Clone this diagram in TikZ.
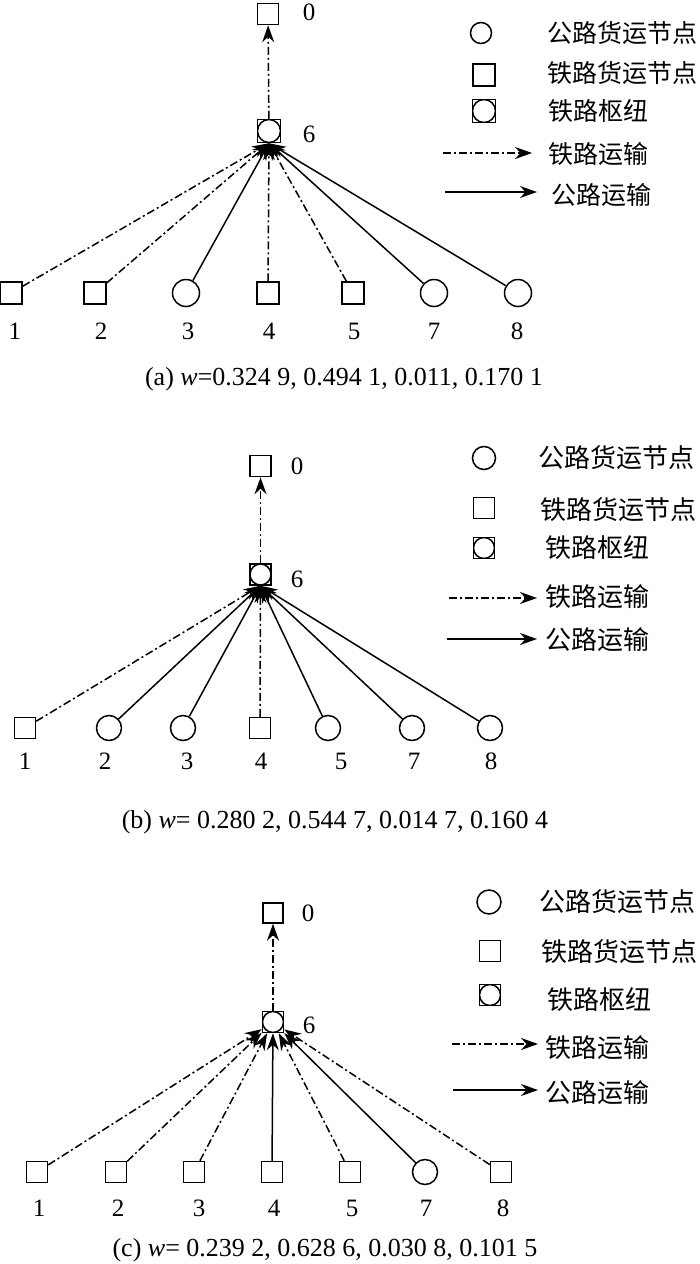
\documentclass[tikz,border=0pt]{standalone}
\usepackage{fontspec}
\setmainfont{Liberation Serif}
\newfontfamily\cjk{Noto Sans CJK SC}
\usetikzlibrary{arrows.meta}
\tikzset{
  sq/.style={draw, rectangle, minimum size=#1, inner sep=0pt},
  sq/.default=21pt,
  rd/.style={draw, circle, minimum size=#1, inner sep=0pt},
  rd/.default=25pt,
  hubbox/.style={draw, rectangle, minimum size=#1, inner sep=0pt,
    path picture={\draw (path picture bounding box.center) circle[radius=#1/2];}},
  hubbox/.default=21pt,
  num/.style={inner sep=0pt, font=\fontsize{25}{30}\selectfont},
  lab/.style={anchor=west, inner sep=0pt, font=\cjk\fontsize{26}{30}\selectfont},
  laba/.style={anchor=west, inner sep=0pt, font=\cjk\fontsize{25}{30}\selectfont},
  captxt/.style={inner sep=0pt, font=\fontsize{26}{30}\selectfont},
  rail/.style={dash pattern=on 8pt off 3pt on 2pt off 3pt},
  arr/.style={-{Stealth[length=17pt,width=12pt]}},
}
\begin{document}
\begin{tikzpicture}[x=1pt,y=-1pt,line width=1.5pt]
\useasboundingbox (0,0) rectangle (700,1264);

% ================= (a) =================
\node[sq=21pt] (a0) at (268,14) {};
\node[num] (a0l) at (309,12) {0};
\node[hubbox=23pt] (a6) at (269,131) {};
\node[num] (a6l) at (309,134) {6};
\node[sq=22pt] (a1) at (11,293) {};
\node[sq=22pt] (a2) at (95,293) {};
\node[rd=27pt] (a3) at (186,293) {};
\node[sq=22pt] (a4) at (268,293) {};
\node[sq=22pt] (a5) at (353,293) {};
\node[rd=27pt] (a7) at (434,293) {};
\node[rd=27pt] (a8) at (518,293) {};
\node[num] (a1l) at (15,331) {1};
\node[num] (a2l) at (101,331) {2};
\node[num] (a3l) at (188,331) {3};
\node[num] (a4l) at (269,331) {4};
\node[num] (a5l) at (354,331) {5};
\node[num] (a7l) at (434,331) {7};
\node[num] (a8l) at (517,331) {8};
\draw[rail,arr] (a6) -- (a0);
\draw[rail,arr] (a1) -- (a6.south);
\draw[rail,arr] (a2) -- (a6.south);
\draw[arr] (a3) -- (a6.south);
\draw[rail,arr] (a4) -- (a6.south);
\draw[rail,arr] (a5) -- (a6.south);
\draw[arr] (a7) -- (a6.south);
\draw[arr] (a8) -- (a6.south);
\node[captxt] (acap) at (344,379) {(a) \textit{w}=0.324 9, 0.494 1, 0.011, 0.170 1};
% legend (a)
\node[rd=21pt] (aLc) at (481,33) {};
\node[sq=22pt] (aLs) at (484,75) {};
\node[hubbox=23pt] (aLh) at (484,111) {};
\coordinate (aLr1) at (443,153); \coordinate (aLr2) at (532,153);
\coordinate (aLg1) at (445,192); \coordinate (aLg2) at (537,192);
\draw[rail,arr] (aLr1) -- (aLr2);
\draw[arr] (aLg1) -- (aLg2);
\node[laba] (aT1) at (547,33) {公路货运节点};
\node[laba] (aT2) at (547,73) {铁路货运节点};
\node[laba] (aT3) at (548,111) {铁路枢纽};
\node[laba] (aT4) at (548,154) {铁路运输};
\node[laba] (aT5) at (551,195) {公路运输};

% ================= (b) =================
\node[sq=21pt] (b0) at (260.5,466) {};
\node[num] (b0l) at (297,466) {0};
\node[hubbox=21pt] (b6) at (260.5,574.5) {};
\node[num] (b6l) at (297,579) {6};
\node[sq=21pt] (b1) at (25,728) {};
\node[rd=25pt] (b2) at (109,728) {};
\node[rd=25pt] (b3) at (183,728) {};
\node[sq=21pt] (b4) at (260,728) {};
\node[rd=25pt] (b5) at (328,728) {};
\node[rd=25pt] (b7) at (412,728) {};
\node[rd=25pt] (b8) at (490,728) {};
\node[num] (b1l) at (25,761) {1};
\node[num] (b2l) at (105,761) {2};
\node[num] (b3l) at (187,761) {3};
\node[num] (b4l) at (261,761) {4};
\node[num] (b5l) at (341,761) {5};
\node[num] (b7l) at (414,761) {7};
\node[num] (b8l) at (491,761) {8};
\draw[rail,arr] (b6) -- (b0);
\draw[rail,arr] (b1) -- (b6.south);
\draw[arr] (b2) -- (b6.south);
\draw[arr] (b3) -- (b6.south);
\draw[rail,arr] (b4) -- (b6.south);
\draw[arr] (b5) -- (b6.south);
\draw[arr] (b7) -- (b6.south);
\draw[arr] (b8) -- (b6.south);
\node[captxt] (bcap) at (335,822) {(b) \textit{w}= 0.280 2, 0.544 7, 0.014 7, 0.160 4};
% legend (b)
\node[rd=23pt] (bLc) at (484,458) {};
\node[sq=21pt] (bLs) at (484,508) {};
\node[hubbox=21pt] (bLh) at (484,548) {};
\coordinate (bLr1) at (449,598); \coordinate (bLr2) at (537,598);
\coordinate (bLg1) at (447,639); \coordinate (bLg2) at (537,639);
\draw[rail,arr] (bLr1) -- (bLr2);
\draw[arr] (bLg1) -- (bLg2);
\node[lab] (bT1) at (538,458) {公路货运节点};
\node[lab] (bT2) at (540,510) {铁路货运节点};
\node[lab] (bT3) at (545,548) {铁路枢纽};
\node[lab] (bT4) at (545,597) {铁路运输};
\node[lab] (bT5) at (545,640) {公路运输};

% ================= (c) =================
\node[sq=20pt] (c0) at (273,913) {};
\node[num] (c0l) at (308,913) {0};
\node[hubbox=21pt] (c6) at (273,1022) {};
\node[num] (c6l) at (309,1025) {6};
\node[sq=21pt] (c1) at (37,1172) {};
\node[sq=21pt] (c2) at (116,1172) {};
\node[sq=21pt] (c3) at (194,1172) {};
\node[sq=21pt] (c4) at (272,1172) {};
\node[sq=21pt] (c5) at (350,1172) {};
\node[rd=25pt] (c7) at (425,1172) {};
\node[sq=21pt] (c8) at (501,1172) {};
\node[num] (c1l) at (39,1208) {1};
\node[num] (c2l) at (118,1208) {2};
\node[num] (c3l) at (199,1208) {3};
\node[num] (c4l) at (274,1208) {4};
\node[num] (c5l) at (352,1208) {5};
\node[num] (c7l) at (426,1208) {7};
\node[num] (c8l) at (503,1208) {8};
\draw[rail,arr] (c6) -- (c0);
\draw[rail,arr] (c1) -- (c6);
\draw[rail,arr] (c2) -- (c6);
\draw[rail,arr] (c3) -- (c6);
\draw[arr] (c4) -- (c6);
\draw[rail,arr] (c5) -- (c6);
\draw[arr] (c7) -- (c6);
\draw[rail,arr] (c8) -- (c6);
\node[captxt] (ccap) at (325,1250) {(c) \textit{w}= 0.239 2, 0.628 6, 0.030 8, 0.101 5};
% legend (c)
\node[rd=24pt] (cLc) at (489,902) {};
\node[sq=21pt] (cLs) at (490,951) {};
\node[hubbox=21pt] (cLh) at (490,995) {};
\coordinate (cLr1) at (452,1044); \coordinate (cLr2) at (538,1044);
\coordinate (cLg1) at (453,1090); \coordinate (cLg2) at (538,1090);
\draw[rail,arr] (cLr1) -- (cLr2);
\draw[arr] (cLg1) -- (cLg2);
\node[lab] (cT1) at (539,902) {公路货运节点};
\node[lab] (cT2) at (541,952) {铁路货运节点};
\node[lab] (cT3) at (547,1000) {铁路枢纽};
\node[lab] (cT4) at (545,1048) {铁路运输};
\node[lab] (cT5) at (545,1093) {公路运输};
\end{tikzpicture}
\end{document}
